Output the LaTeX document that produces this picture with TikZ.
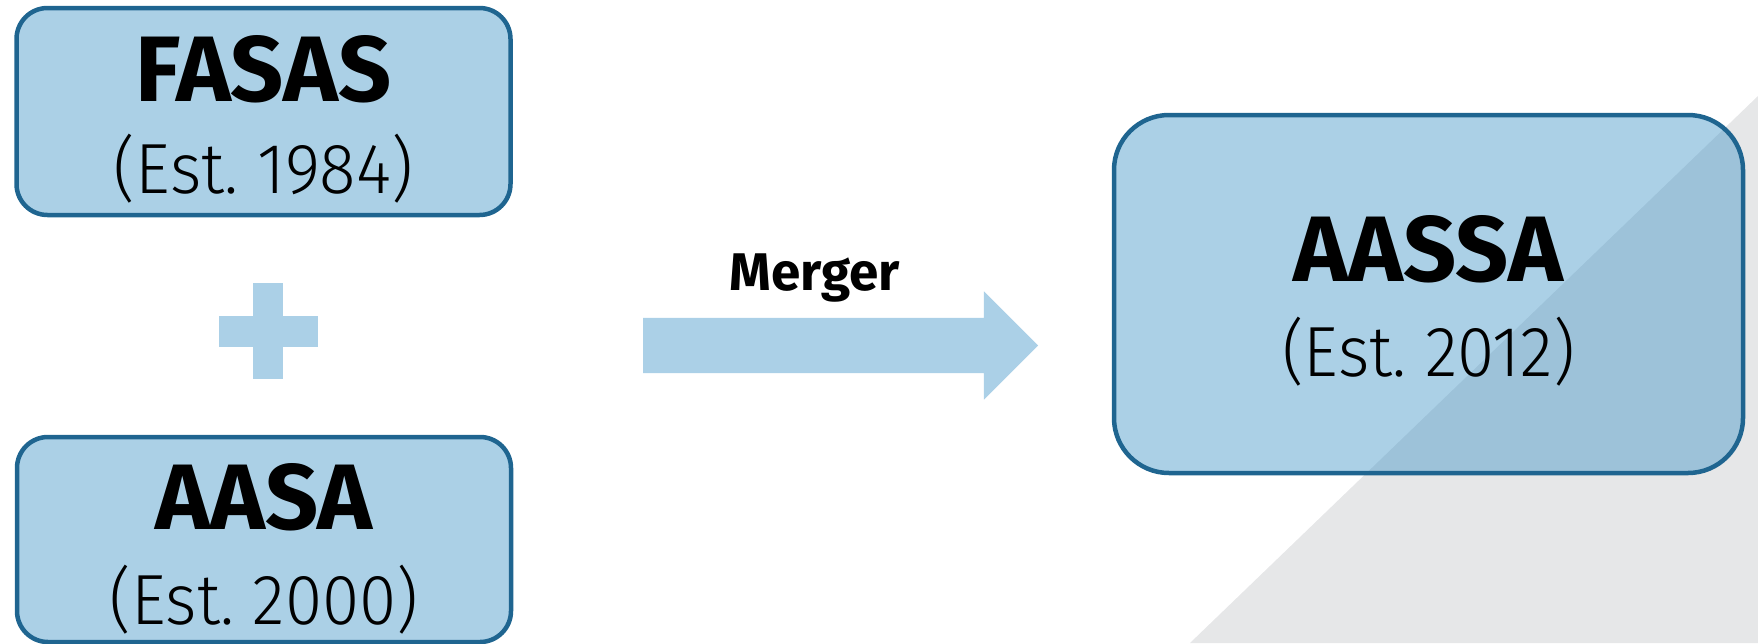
\documentclass[tikz,border=0pt]{standalone}
\usepackage{fontspec}
\newfontfamily\namefont{Fira Sans}
\IfFontExistsTF{Fira Sans Light}{\newfontfamily\yearfont{Fira Sans Light}}{\newfontfamily\yearfont{Fira Sans}}
\usepackage{tikz}
\usetikzlibrary{arrows,shapes,positioning}
\definecolor{boxblue}{RGB}{69,151,200}
\definecolor{lightblue}{RGB}{171,208,231}
\definecolor{boxedge}{RGB}{31,101,144}
\definecolor{backgray}{RGB}{230,231,232}
\newcommand{\estyear}[1]{\scalebox{0.95}[1]{(Est.\ #1)}}

\begin{document}
\begin{tikzpicture}[x=1pt,y=-1pt,
        orgbox/.style={draw=boxedge,line width=4.5pt,fill=boxblue,fill opacity=0.45,draw opacity=1,text opacity=1,inner sep=0pt,outer sep=0pt},
        orgname/.style={anchor=base,inner sep=0pt,font=\namefont\bfseries\fontsize{93}{100}\selectfont},
        orgyear/.style={anchor=base,inner sep=0pt,font=\yearfont\fontsize{71}{80}\selectfont},
        plusbar/.style={fill=lightblue,inner sep=0pt,outer sep=0pt}]
        \useasboundingbox (0,0) rectangle (1758,643);
        % grey corner behind the new association
        \fill[backgray] (1190,643) -- (1758,96) -- (1758,643) -- cycle;

        \node[orgbox,minimum width=494pt,minimum height=207pt,rounded corners=31pt] (fasas) at (263.5,111.5) {};
        \node[orgname] (fasasname) at ([yshift=10.5pt]fasas.center) {FASAS};
        \node[orgyear] (fasasyear) at ([yshift=-81.5pt]fasas.center) {\estyear{1984}};

        \node[plusbar,minimum width=30pt,minimum height=96pt] (plusv) at (268,331) {};
        \node[plusbar,minimum width=99pt,minimum height=31pt] (plush) at (268.5,331.5) {};

        \node[orgbox,minimum width=494pt,minimum height=205pt,rounded corners=31pt] (aasa) at (264,539.5) {};
        \node[orgname] (aasaname) at ([yshift=10.5pt]aasa.center) {AASA};
        \node[orgyear] (aasayear) at ([yshift=-84.5pt]aasa.center) {\estyear{2000}};

        \node[single arrow,fill=lightblue,minimum height=395pt,minimum width=108pt,
              single arrow head extend=26.5pt,single arrow head indent=0pt,
              inner xsep=0pt,inner ysep=27.5pt,outer sep=0pt,anchor=tail] (merge) at (643,345.5) {};
        \node[anchor=base,inner sep=0pt,font=\namefont\bfseries\fontsize{53}{58}\selectfont] (mergelabel) at (814.5,290) {Merger};

        \node[orgbox,minimum width=629pt,minimum height=358pt,rounded corners=55pt] (aassa) at (1428.5,294) {};
        \node[orgname] (aassaname) at ([yshift=13pt]aassa.center) {AASSA};
        \node[orgyear] (aassayear) at ([yshift=-82.6pt]aassa.center) {\estyear{2012}};
    \end{tikzpicture}
\end{document}
